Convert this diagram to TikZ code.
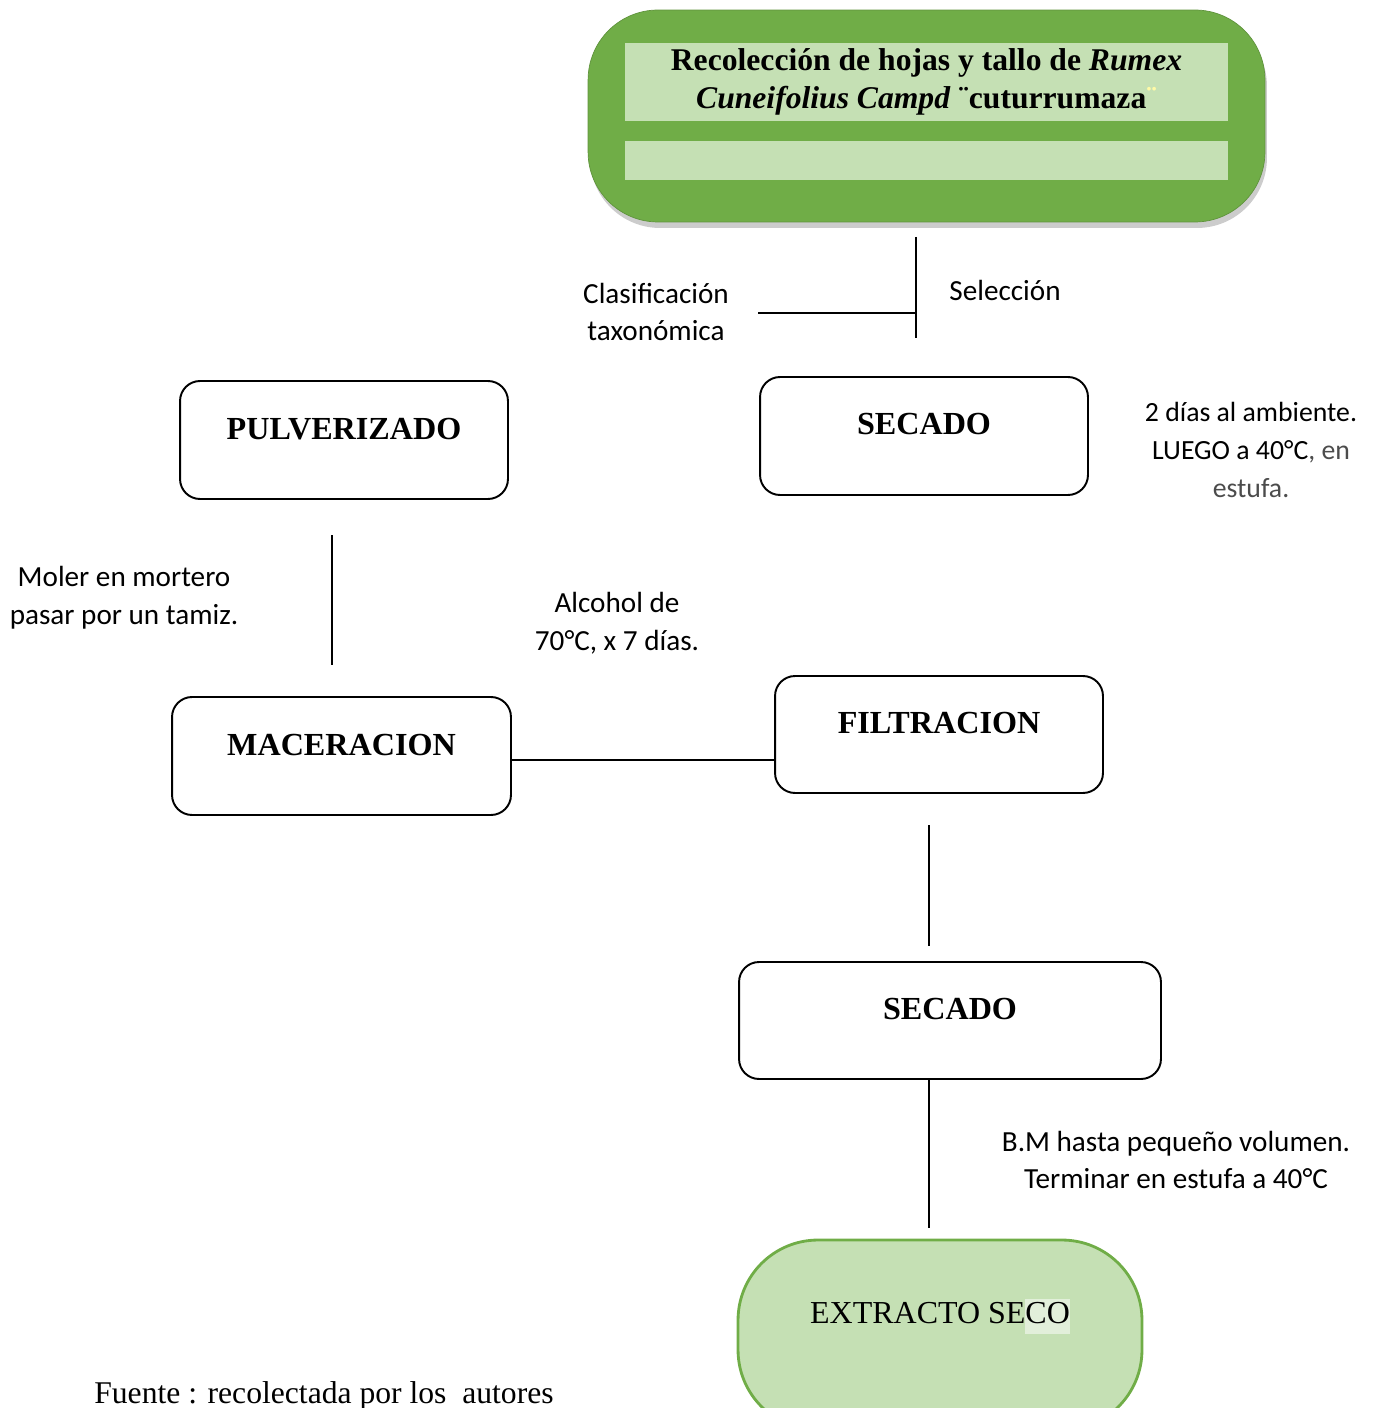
\documentclass[tikz,border=0pt]{standalone}
\usepackage{fontspec}
\setmainfont{Liberation Serif}
\newfontfamily\notafont{Carlito}
\usetikzlibrary{shadows}
\definecolor{verdeosc}{HTML}{70AD47}
\definecolor{verdecla}{HTML}{C5E0B4}
\definecolor{verderes}{HTML}{E2EFDA}
\tikzset{
  paso/.style={draw, line width=1.1pt, rounded corners=0.4cm, minimum width=6.56cm,
    minimum height=2.36cm, font=\fontsize{18.3}{21}\selectfont\bfseries,
    text height=0.4cm, text depth=0.44cm},
  nota/.style={font=\notafont\fontsize{16.6}{21.5}\selectfont, align=center},
  linea/.style={line width=1.1pt},
}
\begin{document}
\begin{tikzpicture}[x=0.02cm, y=-0.02cm]
  \useasboundingbox (0,0) rectangle (1373,1408);
  % inicio
  \node[fill=verdeosc, draw=verdeosc!85!black, rounded corners=1.4cm, minimum width=13.54cm,
    minimum height=4.24cm, drop shadow={shadow xshift=0.04cm, shadow yshift=-0.12cm, opacity=0.4}]
    (reco) at (926.5,116) {};
  \node[fill=verdecla, minimum width=12.06cm, minimum height=1.56cm, align=center,
    font=\fontsize{18}{21.5}\selectfont\bfseries] (titulo) at (926.5,82)
    {Recolección de hojas y tallo de \textit{Rumex}\\
     \textit{Cuneifolius Campd} ¨cuturrumaza\textcolor{yellow!35}{¨}};
  \node[fill=verdecla, minimum width=12.06cm, minimum height=0.78cm] (franja) at (926.5,160.5) {};

  \coordinate (selA) at (916,237);
  \coordinate (selB) at (916,338);
  \coordinate (clas) at (758,313);
  \draw[linea] (selA) -- (selB);
  \draw[linea] (clas) -- (clas -| selA);
  \node[nota] (clasif) at (656,312) {Clasificación\\taxonómica};
  \node[nota] (selecc) at (1005,290) {Selección};

  % pasos
  \node[paso] (secado) at (924,436) {SECADO};
  \node[paso] (pulv) at (344,440) {PULVERIZADO};
  \node[paso, minimum width=6.78cm] (macer) at (341.5,756) {MACERACION};
  \node[paso, minimum height=2.34cm] (filtr) at (939,734.5) {FILTRACION};
  \node[paso, minimum width=8.44cm, minimum height=2.34cm] (secado2) at (950,1020.5) {SECADO};
  \node[nota, font=\notafont\fontsize{15.8}{21.5}\selectfont] (dias) at (1251,450)
    {2 días al ambiente.\\LUEGO a 40°C\textcolor{black!70}{, en}\\\textcolor{black!70}{estufa.}};

  \coordinate (molA) at (332,535);
  \coordinate (molB) at (332,665);
  \draw[linea] (molA) -- (molB);
  \node[nota] (moler) at (124,598) {Moler en mortero\\pasar por un tamiz.};
  \node[nota] (alcohol) at (617,623) {Alcohol de\\70°C, x 7 días.};
  \draw[linea] ([yshift=-0.08cm]macer.east) -- ([yshift=-0.08cm]macer.east -| filtr.west);

  \coordinate (filA) at (929,825);
  \coordinate (filB) at (929,946);
  \draw[linea] (filA) -- (filB);
  \coordinate (bmB) at (929,1228);
  \draw[linea] (secado2.south -| bmB) -- (bmB);
  \node[nota] (bm) at (1176,1160) {B.M hasta pequeño volumen.\\Terminar en estufa a 40°C};

  % final
  \node[fill=verdecla, draw=verdeosc, line width=1.6pt, rounded corners=1.6cm,
    minimum width=8.08cm, minimum height=3.8cm, font=\fontsize{18.2}{20}\selectfont,
    text height=0.42cm, text depth=0.88cm] (extracto) at (940,1335)
    {\setlength\fboxsep{0pt}EXTRACTO SE\colorbox{verderes}{\strut CO}};
  \node[anchor=base west, inner sep=0pt, font=\fontsize{18}{21}\selectfont] (fuente) at (94,1403)
    {Fuente : recolectada por los\ \ autores};
\end{tikzpicture}
\end{document}
